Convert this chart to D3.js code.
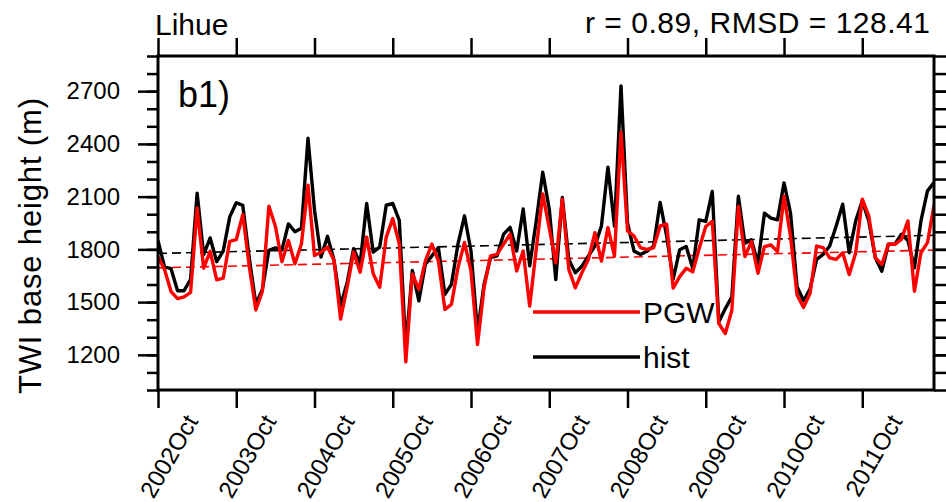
<!DOCTYPE html>
<html>
<head>
<meta charset="utf-8">
<script src="https://cdn.jsdelivr.net/npm/d3@7"></script>
<style>
  html, body { margin: 0; padding: 0; background: #fff; }
  svg { display: block; font-family: "Liberation Sans", Arial, Helvetica, sans-serif; }
</style>
</head>
<body>
<svg id="chart" width="946" height="502"></svg>
<script>
// ---- data (monthly, 2002 Oct .. 2012 Sep) ----
const histValues = [
  1850,1700,1690,1565,1565,1630,2120,1770,1865,1730,1790,1985,
  2065,2050,1750,1490,1570,1795,1808,1796,1945,1900,1920,2432,
  2023,1756,1874,1737,1480,1610,1804,1718,2061,1784,1813,2051,
  2061,1965,1240,1680,1507,1715,1763,1810,1544,1601,1830,1991,
  1791,1330,1601,1753,1763,1887,1925,1791,2030,1706,1960,2239,
  2030,1628,2095,1743,1667,1705,1762,1819,1933,2267,1933,2730,
  1950,1790,1771,1790,1819,2067,1876,1630,1798,1816,1692,1968,
  1959,2130,1387,1463,1530,2102,1835,1854,1721,2006,1978,1968,
  2178,2006,1587,1508,1575,1743,1771,1819,1933,2057,1781,1962,
  2076,1962,1752,1676,1829,1829,1886,1850,1695,1962,2133,2180
];
const pgwValues = [
  1758,1685,1560,1520,1530,1555,2036,1693,1789,1627,1636,1846,
  1855,1998,1703,1455,1560,2046,1932,1730,1850,1718,1832,2165,
  1765,1784,1813,1737,1403,1584,1784,1670,1870,1661,1584,1870,
  1975,1832,1160,1660,1573,1734,1830,1734,1458,1487,1696,1839,
  1677,1258,1582,1763,1772,1830,1887,1677,1791,1477,1800,2115,
  1920,1724,2086,1686,1581,1667,1743,1895,1733,1924,1762,2467,
  1905,1876,1809,1800,1809,1933,1943,1580,1645,1692,1673,1806,
  1930,1959,1378,1321,1454,2045,1759,1844,1664,1816,1825,1787,
  2102,1873,1540,1470,1550,1819,1810,1752,1743,1781,1657,1781,
  2086,1990,1752,1714,1829,1829,1857,1962,1562,1781,1838,2050
];
const trendHist = [1777, 1880];   // linear trend at first / last month
const trendPGW  = [1695, 1796];
const xTickIndex  = [0,12,24,36,48,60,72,84,96,108];
const xTickLabels = ["2002Oct","2003Oct","2004Oct","2005Oct","2006Oct",
                     "2007Oct","2008Oct","2009Oct","2010Oct","2011Oct"];
const yMajorTicks = [1200,1500,1800,2100,2400,2700];
const yMinorTicks = d3.range(1000, 2901, 100);
const legendItems = [
  {name: "PGW",  color: "#ff0000"},
  {name: "hist", color: "#000000"}
];
const stationName = "Lihue";
const statsText = "r = 0.89, RMSD = 128.41";
const panelLabel = "b1)";
const yTitle = "TWI base height (m)";

// ---- layout ----
const L = 158, R = 934, T = 56, B = 390;
const svg = d3.select("#chart");
const n = histValues.length;
const x = d3.scaleLinear().domain([0, n - 1]).range([L, R]);
const y = d3.scaleLinear().domain([1000, 2900]).range([B, T]);

svg.append("defs").append("clipPath").attr("id", "clip")
  .append("rect").attr("x", L).attr("y", T).attr("width", R - L).attr("height", B - T);

function styleAxis(g) {
  g.select(".domain").remove();
  g.selectAll(".tick line").attr("stroke", "#000").attr("stroke-width", 2.5);
  g.selectAll(".tick text").attr("fill", "#000");
}

// left axis: minor + major
svg.append("g").attr("transform", `translate(${L},0)`)
  .call(d3.axisLeft(y).tickValues(yMinorTicks).tickSize(11).tickFormat(""))
  .call(styleAxis);
svg.append("g").attr("transform", `translate(${L},0)`)
  .call(d3.axisLeft(y).tickValues(yMajorTicks).tickSize(20).tickPadding(18).tickFormat(d3.format("d")))
  .call(styleAxis)
  .call(g => g.selectAll(".tick text").attr("font-size", 24).attr("font-family", "Liberation Sans, Arial, sans-serif"));
// right axis
svg.append("g").attr("transform", `translate(${R},0)`)
  .call(d3.axisRight(y).tickValues(yMinorTicks).tickSize(13).tickFormat(""))
  .call(styleAxis);
svg.append("g").attr("transform", `translate(${R},0)`)
  .call(d3.axisRight(y).tickValues(yMajorTicks).tickSize(20).tickFormat(""))
  .call(styleAxis);
// top axis
svg.append("g").attr("transform", `translate(0,${T})`)
  .call(d3.axisTop(x).tickValues(xTickIndex).tickSize(18).tickFormat(""))
  .call(styleAxis);
// bottom axis
const bx = svg.append("g").attr("transform", `translate(0,${B})`)
  .call(d3.axisBottom(x).tickValues(xTickIndex).tickSize(18).tickFormat((d, i) => xTickLabels[i]))
  .call(styleAxis);
bx.selectAll(".tick text")
  .attr("font-size", 24)
  .attr("font-family", "Liberation Sans, Arial, sans-serif")
  .attr("text-anchor", "end")
  .attr("dominant-baseline", "central")
  .attr("dy", null)
  .attr("y", 0)
  .attr("transform", "translate(33,27) rotate(-60)");

// trend lines
const trendLine = d3.line().x(d => x(d[0])).y(d => y(d[1]));
const plot = svg.append("g").attr("clip-path", "url(#clip)");
plot.append("path").datum([[0, trendHist[0]], [n - 1, trendHist[1]]])
  .attr("d", trendLine).attr("fill", "none").attr("stroke", "#000")
  .attr("stroke-width", 1.6).attr("stroke-dasharray", "9,5");
plot.append("path").datum([[0, trendPGW[0]], [n - 1, trendPGW[1]]])
  .attr("d", trendLine).attr("fill", "none").attr("stroke", "#ff0000")
  .attr("stroke-width", 1.6).attr("stroke-dasharray", "9,5");

// data lines
const line = d3.line().x((d, i) => x(i)).y(d => y(d));
plot.append("path").datum(histValues).attr("d", line)
  .attr("fill", "none").attr("stroke", "#000").attr("stroke-width", 3.4).attr("stroke-linejoin", "round");
plot.append("path").datum(pgwValues).attr("d", line)
  .attr("fill", "none").attr("stroke", "#ff0000").attr("stroke-width", 3.4).attr("stroke-linejoin", "round");

// frame
svg.append("rect").attr("x", L).attr("y", T).attr("width", R - L).attr("height", B - T)
  .attr("fill", "none").attr("stroke", "#000").attr("stroke-width", 3);

// legend
const lg = svg.append("g");
legendItems.forEach((it, i) => {
  const yy = 312 + i * 45;
  lg.append("line").attr("x1", 533).attr("x2", 640).attr("y1", yy).attr("y2", yy)
    .attr("stroke", it.color).attr("stroke-width", 3.4);
  lg.append("text").attr("x", 643).attr("y", yy + 11).attr("font-size", 30)
    .attr("fill", "#000").text(it.name);
});

// titles
svg.append("text").attr("x", 155).attr("y", 35).attr("font-size", 30).text(stationName);
svg.append("text").attr("x", 930).attr("y", 33).attr("font-size", 30)
  .attr("text-anchor", "end").attr("textLength", 345).attr("lengthAdjust", "spacing").text(statsText);
svg.append("text").attr("x", 178).attr("y", 107).attr("font-size", 36).text(panelLabel);
svg.append("text").attr("transform", "translate(41,246) rotate(-90)")
  .attr("text-anchor", "middle").attr("font-size", 31)
  .attr("textLength", 296).attr("lengthAdjust", "spacing").text(yTitle);
</script>
</body>
</html>
